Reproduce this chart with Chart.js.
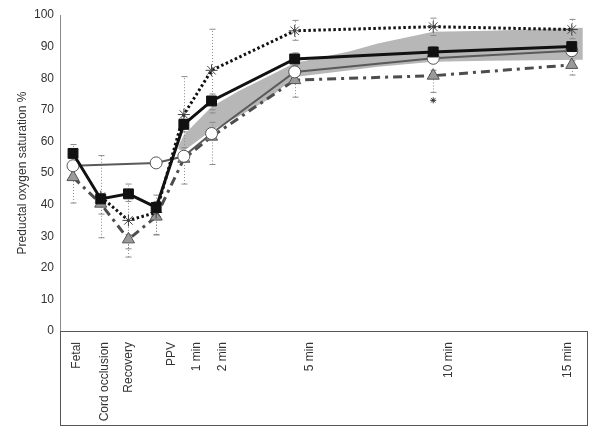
<!DOCTYPE html>
<html lang="en">
<head>
    <meta charset="UTF-8">
    <title>Preductal oxygen saturation</title>
    <script src="https://cdn.jsdelivr.net/npm/chart.js@4"></script>
    <style>
        body {
            margin: 0;
            background-color: #ffffff;
        }
        .wrap {
            width: 600px;
            height: 442px;
        }
    </style>
</head>
<body>
    <div class="wrap">
        <canvas id="satChart"></canvas>
    </div>

    <script>
        // categories and where they sit on the time axis (minutes + 3)
        const labels = ['Fetal', 'Cord occlusion', 'Recovery', 'PPV', '1 min', '2 min', '5 min', '10 min', '15 min'];
        const xPos = [0, 1, 2, 3, 4, 5, 8, 13, 18];
        const tickPos = [0.15, 1.15, 2, 3.55, 4.45, 5.4, 8.55, 13.55, 17.85];
        const yTicks = [0, 10, 20, 30, 40, 50, 60, 70, 80, 90, 100];

        // series (mean, lower and upper error)
        const squares = [56.2, 41.8, 43.4, 39.1, 65.4, 72.8, 86.1, 88.3, 90];
        const squaresLo = [53.5, 40, 41, 37.5, 63, 70, 84, 86.5, 88.5];
        const squaresHi = [59, 43.5, 46.5, 41, 67, 75, 88, 90, 91.5];

        const circles = [52.3, null, null, 53.2, 55.3, 62.5, 82, 86.3, 88.7];

        const crosses = [null, 42.5, 35, 37.5, 68.5, 82.5, 95, 96.3, 95.4];
        const crossesLo = [null, 29.5, 26, 30.5, 55, 69, 92, 93.5, 92.5];
        const crossesHi = [null, 55.5, 44, 43, 80.5, 95.5, 98.3, 99, 98.6];

        const triangles = [48.7, 40.3, 29, 36.2, 54.5, 61.5, 79.4, 80.8, 84.2];
        const trianglesLo = [40.5, 37, 23.4, 30.4, 46.5, 52.7, 74, 75.5, 81];
        const trianglesHi = [49, 42, 30.5, 38, 58, 66, 81, 82.5, 85.5];

        // reference range band
        const bandX = [3.8, 4, 5, 6, 7, 8, 10, 11, 13, 15, 18.4];
        const bandLo = [57.5, 57, 63.5, 68, 73, 80.4, 82.5, 83.6, 85.2, 85.5, 85.8];
        const bandHi = [58.5, 62, 71, 76, 80.4, 84.8, 88.5, 91, 94.7, 95, 96];

        // significance marker
        const sigX = [13];
        const sigY = [73];

        const FONT = "'Liberation Sans', Arial, sans-serif";

        function pts(xs, ys) {
            return xs.map((x, i) => ({ x: x, y: ys[i] }));
        }

        const errorSets = [
            { lo: trianglesLo, hi: trianglesHi },
            { lo: crossesLo, hi: crossesHi },
            { lo: squaresLo, hi: squaresHi }
        ];

        // draws the gray dotted error bars just after the band
        const errorBars = {
            id: 'errorBars',
            afterDatasetDraw(chart, args) {
                if (args.index !== 1) return;
                const ctx = chart.ctx;
                const xs = chart.scales.x, ys = chart.scales.y;
                ctx.save();
                ctx.strokeStyle = '#8a8a8a';
                ctx.lineWidth = 1;
                errorSets.forEach(set => {
                    xPos.forEach((x, i) => {
                        if (set.lo[i] == null) return;
                        const px = Math.round(xs.getPixelForValue(x)) + 0.5;
                        const y1 = ys.getPixelForValue(set.lo[i]);
                        const y2 = ys.getPixelForValue(set.hi[i]);
                        ctx.setLineDash([1, 2]);
                        ctx.beginPath();
                        ctx.moveTo(px, y1);
                        ctx.lineTo(px, y2);
                        ctx.stroke();
                        ctx.setLineDash([]);
                        ctx.beginPath();
                        ctx.moveTo(px - 3, y1);
                        ctx.lineTo(px + 3, y1);
                        ctx.moveTo(px - 3, y2);
                        ctx.lineTo(px + 3, y2);
                        ctx.stroke();
                    });
                });
                ctx.restore();
            }
        };

        // box under the plot that holds the category labels
        const labelBox = {
            id: 'labelBox',
            afterDraw(chart) {
                const ctx = chart.ctx;
                const a = chart.chartArea;
                ctx.save();
                ctx.strokeStyle = '#555';
                ctx.lineWidth = 1;
                ctx.strokeRect(Math.round(a.left) + 0.5, Math.round(a.bottom) + 0.5,
                    Math.round(a.right - a.left), 94);
                ctx.restore();
            }
        };

        const ctx = document.getElementById('satChart').getContext('2d');
        new Chart(ctx, {
            type: 'line',
            data: {
                datasets: [
                    {
                        label: 'band high',
                        data: pts(bandX, bandHi),
                        borderWidth: 0,
                        pointRadius: 0,
                        backgroundColor: '#b7b7b7',
                        fill: '+1',
                        order: 10
                    },
                    {
                        label: 'band low',
                        data: pts(bandX, bandLo),
                        borderWidth: 0,
                        pointRadius: 0,
                        fill: false,
                        order: 9
                    },
                    {
                        label: 'triangles',
                        data: pts(xPos, triangles),
                        borderColor: '#4d4d4d',
                        borderWidth: 3,
                        borderDash: [9, 5, 3, 5],
                        pointStyle: 'triangle',
                        pointRadius: 7,
                        pointBackgroundColor: '#9a9a9a',
                        pointBorderColor: '#555',
                        pointBorderWidth: 1,
                        spanGaps: true,
                        order: 4
                    },
                    {
                        label: 'circles',
                        data: pts(xPos, circles),
                        borderColor: '#5a5a5a',
                        borderWidth: 2,
                        pointStyle: 'circle',
                        pointRadius: 6,
                        pointBackgroundColor: '#ffffff',
                        pointBorderColor: '#555',
                        pointBorderWidth: 1,
                        spanGaps: true,
                        order: 3
                    },
                    {
                        label: 'crosses',
                        data: pts(xPos, crosses),
                        borderColor: '#111',
                        borderWidth: 3,
                        borderDash: [2.5, 2.5],
                        pointStyle: 'star',
                        pointRadius: 6,
                        pointBorderColor: '#444',
                        pointBorderWidth: 1,
                        spanGaps: true,
                        order: 2
                    },
                    {
                        label: 'squares',
                        data: pts(xPos, squares),
                        borderColor: '#111',
                        borderWidth: 3,
                        pointStyle: 'rect',
                        pointRadius: 7,
                        pointBackgroundColor: '#111',
                        pointBorderColor: '#111',
                        pointBorderWidth: 1,
                        order: 1
                    },
                    {
                        label: 'significant',
                        data: pts(sigX, sigY),
                        showLine: false,
                        pointStyle: 'star',
                        pointRadius: 3,
                        pointBorderColor: '#333',
                        pointBorderWidth: 1,
                        order: 0
                    }
                ]
            },
            options: {
                responsive: true,
                maintainAspectRatio: false,
                animation: false,
                layout: {
                    padding: { top: 15, right: 13, left: 0, bottom: 0 }
                },
                plugins: {
                    legend: { display: false },
                    tooltip: { enabled: false }
                },
                scales: {
                    x: {
                        type: 'linear',
                        min: -0.47,
                        max: 18.55,
                        grid: { display: false, drawTicks: false },
                        border: { display: false },
                        afterBuildTicks: scale => {
                            scale.ticks = tickPos.map(v => ({ value: v }));
                        },
                        afterFit: scale => {
                            scale.height = 111;
                        },
                        ticks: {
                            autoSkip: false,
                            maxRotation: 90,
                            minRotation: 90,
                            padding: 11,
                            color: '#333',
                            font: { family: FONT, size: 12 },
                            callback: (value, index) => labels[index]
                        }
                    },
                    y: {
                        min: 0,
                        max: 100,
                        grid: { display: false, drawTicks: false },
                        border: { display: true, color: '#888', width: 1 },
                        afterBuildTicks: scale => {
                            scale.ticks = yTicks.map(v => ({ value: v }));
                        },
                        afterFit: scale => {
                            scale.width = 60;
                        },
                        ticks: {
                            padding: 6,
                            color: '#333',
                            font: { family: FONT, size: 12 }
                        },
                        title: {
                            display: true,
                            text: 'Preductal oxygen saturation %',
                            color: '#333',
                            font: { family: FONT, size: 12 },
                            padding: { top: 15, bottom: 0 }
                        }
                    }
                }
            },
            plugins: [errorBars, labelBox]
        });
    </script>
</body>
</html>
